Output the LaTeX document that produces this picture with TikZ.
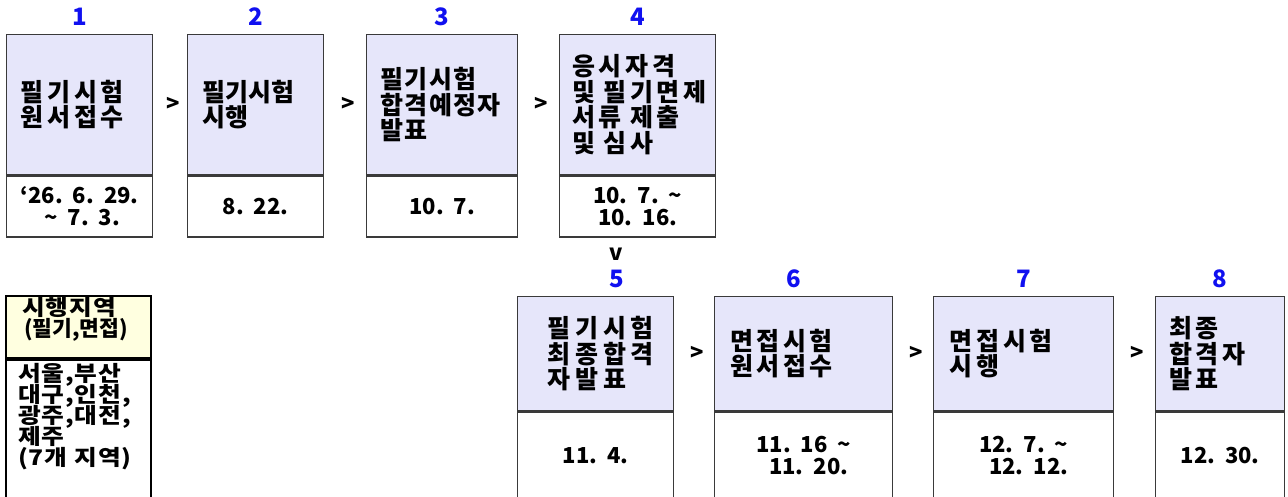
\documentclass[tikz,border=0pt]{standalone}
\usepackage{fontspec}
\setmainfont{Noto Sans CJK KR}
\usetikzlibrary{positioning,calc}
\definecolor{headfill}{HTML}{E6E6FA}
\definecolor{areafill}{HTML}{FFFFE0}
\definecolor{numblue}{HTML}{1010F0}
\definecolor{boxline}{HTML}{3A3A3A}
\newcommand{\tightlines}{\setlength{\lineskiplimit}{-20pt}}

\begin{document}
\begin{tikzpicture}[x=1pt,y=-1pt,
    head/.style={draw=boxline,line width=1.3pt,fill=headfill,anchor=north west,
      inner xsep=14pt,inner ysep=0pt,align=left,
      font=\fontsize{25}{25.5}\selectfont\bfseries\tightlines},
    date/.style={draw=boxline,line width=1.3pt,fill=white,inner sep=0pt,align=center,
      font=\fontsize{22}{22}\selectfont\bfseries\tightlines},
    num/.style={text=numblue,inner sep=0pt,font=\fontsize{24}{24}\selectfont\bfseries},
    sep/.style={inner sep=0pt,font=\fontsize{22}{22}\selectfont\bfseries},
    frame/.style={draw=black,line width=2pt,anchor=north west,minimum width=145,inner sep=0pt},
    areatext/.style={anchor=north west,inner sep=0pt,align=left,text width=128,
      font=\fontsize{21.5}{21}\selectfont\bfseries\tightlines}]
  \useasboundingbox (0,0) rectangle (1288,497);
  % Define nodes, first row
  \node[head, minimum width=146, minimum height=140, text width=118] (h1) at (6,34)
    {\addfontfeature{LetterSpace=15}필기시험\\원서접수};
  \node[head, minimum width=136, minimum height=140, text width=106, inner xsep=15pt] (h2) at (187,34)
    {필기시험\\시행};
  \node[head, minimum width=151, minimum height=140, text width=123] (h3) at (366,34)
    {\addfontfeature{LetterSpace=5}필기시험\\합격예정자\\발표};
  \node[head, minimum width=156, minimum height=140, text width=131, inner xsep=12.5pt] (h4) at (559,34)
    {\addfontfeature{LetterSpace=15}응시자격\\및~필기면제\\서류~제출\\및~심사};
  \node[date, minimum width=146, minimum height=61, below=0pt of h1] (d1)
    {‘26.~~6.~~29.\\~\textasciitilde~~7.~~3.};
  \node[date, minimum width=136, minimum height=61, below=0pt of h2] (d2) {8.~~22.};
  \node[date, minimum width=151, minimum height=61, below=0pt of h3] (d3) {10.~~7.};
  \node[date, minimum width=156, minimum height=61, below=0pt of h4] (d4)
    {10.~~7.~~\textasciitilde\\10.~~16.};
  % second row
  \node[head, minimum width=156, minimum height=114, text width=96, inner xsep=30pt] (h5) at (517,296)
    {\addfontfeature{LetterSpace=19}필기시험\\최종합격\\자발표};
  \node[head, minimum width=178, minimum height=114, text width=146, inner xsep=16pt] (h6) at (714,296)
    {\addfontfeature{LetterSpace=13}면접시험\\원서접수};
  \node[head, minimum width=180, minimum height=114, text width=148, inner xsep=16pt] (h7) at (933,296)
    {\addfontfeature{LetterSpace=15}면접시험\\시행};
  \node[head, minimum width=129, minimum height=114, text width=101] (h8) at (1155,296)
    {\addfontfeature{LetterSpace=13}최종\\합격자\\발표};
  \node[date, minimum width=156, minimum height=87, below=0pt of h5] (d5) {11.~~4.};
  \node[date, minimum width=178, minimum height=87, below=0pt of h6] (d6)
    {11.~~16~~\textasciitilde\\~~11.~~20.};
  \node[date, minimum width=180, minimum height=87, below=0pt of h7] (d7)
    {12.~~7.~~\textasciitilde\\~~12.~~12.};
  \node[date, minimum width=129, minimum height=87, below=0pt of h8] (d8) {12.~~30.};
  % step numbers
  \node[num, above=8pt of h1] (n1) {1};
  \node[num, above=8pt of h2] (n2) {2};
  \node[num, above=8pt of h3] (n3) {3};
  \node[num, above=8pt of h4] (n4) {4};
  \node[num, above=8pt of h5, xshift=21pt] (n5) {5};
  \node[num, above=8pt of h6, xshift=-10pt] (n6) {6};
  \node[num, above=8pt of h7] (n7) {7};
  \node[num, above=8pt of h8] (n8) {8};
  % step separators
  \node[sep, xshift=3pt] (s12) at ($(h1.east)!0.5!(h2.west)$) {>};
  \node[sep, xshift=3pt] (s23) at ($(h2.east)!0.5!(h3.west)$) {>};
  \node[sep, xshift=3pt] (s34) at ($(h3.east)!0.5!(h4.west)$) {>};
  \node[sep] (s45) at (616,254) {v};
  \node[sep, xshift=3pt] (s56) at ($(h5.east)!0.5!(h6.west)$) {>};
  \node[sep, xshift=3pt] (s67) at ($(h6.east)!0.5!(h7.west)$) {>};
  \node[sep, xshift=3pt] (s78) at ($(h7.east)!0.5!(h8.west)$) {>};
  % exam areas
  \node[frame, fill=areafill, minimum height=62] (areahead) at (5,295) {};
  \node[frame, fill=white, minimum height=145, below=0pt of areahead] (areabody) {};
  \node[areatext] (areatitle) at ([xshift=17pt,yshift=-2pt]areahead.north west)
    {{\addfontfeature{FakeStretch=1.15,LetterSpace=4}시행지역}\\\hspace*{2pt}(필기,면접)};
  \node[areatext] (cities) at ([xshift=13pt,yshift=-4pt]areabody.north west)
    {\addfontfeature{FakeStretch=1.15,LetterSpace=4}서울,부산\\대구,인천,\\광주,대전,\\제주\\(7개~지역)};
\end{tikzpicture}
\end{document}
